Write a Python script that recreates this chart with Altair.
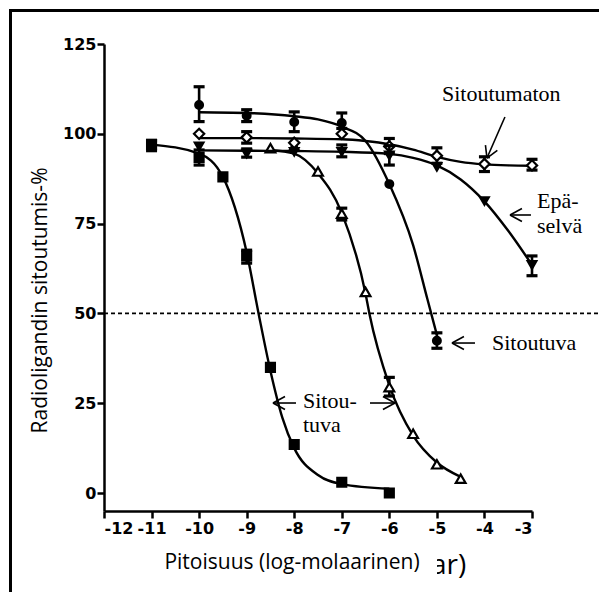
import altair as alt
import pandas as pd

# ---------------- data ----------------
# filled squares (Sitoutuva, left)
sq_x = [-11, -10, -9.5, -9, -8.5, -8, -7, -6]
sq_y = [97, 93.4, 88, 66, 35, 13.5, 3, 0]
sq_lo = [95.3, 91.3, None, 64, None, None, None, None]
sq_hi = [98.2, 95.5, None, 67.6, None, None, None, None]
sq_cx = [-11, -10, -9.5, -9, -8.75, -8.5, -8.25, -8, -7.5, -7, -6]
sq_cy = [97, 94.5, 88, 67, 50, 34, 21, 12.5, 5, 2.5, 1.2]

# open triangles (Sitoutuva, middle)
tr_x = [-8.5, -8, -7.5, -7, -6.5, -6, -5.5, -5, -4.5]
tr_y = [96, 96.5, 89.5, 77.8, 56, 29.5, 16.5, 8, 4]
tr_lo = [None, None, None, 76, None, 27, None, None, None]
tr_hi = [None, None, None, 79.3, None, 32.2, None, None, None]
tr_cx = [-8.5, -8, -7.5, -7, -6.5, -6.42, -6, -5.5, -5, -4.5]
tr_cy = [95.5, 94.5, 89, 78, 55.5, 50, 30, 16, 8.5, 4.5]

# filled circles (Sitoutuva, right)
ci_x = [-10, -9, -8, -7, -6, -5]
ci_y = [108, 105, 103.3, 103, 86, 42.4]
ci_lo = [103.4, 103.4, 100.6, 101.5, None, 40.3]
ci_hi = [113.1, 106.7, 106.1, 105.8, None, 44.6]
ci_cx = [-10, -9, -8, -7.5, -7, -6.5, -6, -5.5, -5.2, -5]
ci_cy = [106, 105.8, 104.9, 104, 102, 98, 86, 69, 54, 44]

# open diamonds (Sitoutumaton)
di_x = [-10, -9, -8, -7, -6, -5, -4, -3]
di_y = [100, 99, 97.5, 100, 96.5, 93.9, 91.6, 91.2]
di_lo = [None, 97.4, None, None, 94.5, 91.8, 89.5, 89.9]
di_hi = [None, 100.6, None, None, 98.7, 96.1, 93.6, 92.9]
di_cx = [-10, -9, -8, -7, -6.5, -6, -5.5, -5, -4.5, -4, -3.5, -3]
di_cy = [98.8, 98.8, 98.7, 98.5, 98.0, 97.1, 95.6, 93.6, 92.2, 91.5, 91.2, 91.1]

# filled down-triangles (Epäselvä)
dt_x = [-10, -9, -8, -7, -6, -5, -4, -3]
dt_y = [96.5, 94.5, 95, 95, 94, 90.8, 81.3, 63.5]
dt_lo = [None, 93.5, None, 93.6, 91.3, None, None, 60.5]
dt_hi = [None, 95.8, None, 96.9, 96.7, None, None, 66]
dt_cx = [-10, -9, -8, -7, -6, -5.5, -5, -4.5, -4, -3.5, -3]
dt_cy = [95.4, 95.3, 95.2, 95.0, 94.4, 93.3, 91.2, 87.3, 81.2, 73, 63.5]

x_ticks = [-12, -11, -10, -9, -8, -7, -6, -5, -4, -3]
y_ticks = [0, 25, 50, 75, 100, 125]

# annotation texts (data coordinates)
ann_text = ["Sitoutumaton", "Epä-", "selvä", "Sitoutuva", "Sitou-", "tuva"]
ann_x = [-4.893, -2.896, -2.896, -3.842, -7.816, -7.816]
ann_y = [109.1, 79.3, 72.4, 39.8, 23.66, 16.98]

# arrow segments (data coordinates): tip, tail and two head arms
arrows = [
    (-8.447, 25.06, -7.963, 25.06, -8.194, 26.87, -8.194, 23.25),
    (-5.881, 25.06, -6.407, 25.06, -6.134, 26.87, -6.134, 23.25),
    (-3.463, 77.4, -3.022, 77.4, -3.211, 79.2, -3.211, 75.6),
    (-4.683, 41.76, -4.199, 41.76, -4.431, 43.57, -4.431, 39.95),
    (-3.947, 93.26, -3.569, 104.68, -3.729, 95.41, -3.979, 96.85),
]

# ---------------- chart ----------------
XS = alt.Scale(domain=[-12, -3], nice=False, zero=False)
YS = alt.Scale(domain=[-5, 125], nice=False, zero=False)
LBL = "datum.value < 0 ? '-' + (-datum.value) : '' + datum.value"
XA = alt.Axis(values=x_ticks, labelExpr=LBL, labelOverlap=False,
              title="Pitoisuus (log-molaarinen)")
YA = alt.Axis(values=y_ticks, labelExpr=LBL, labelOverlap=False,
              title="Radioligandin sitoutumis-%")


def X(f):
    return alt.X(f, type="quantitative", scale=XS, axis=XA)


def Y(f):
    return alt.Y(f, type="quantitative", scale=YS, axis=YA)


def series(xs, ys, lo, hi, cx, cy, shape, filled, size):
    pts = pd.DataFrame({"x": xs, "y": ys, "lo": lo, "hi": hi})
    err = pts.dropna(subset=["lo"])
    cur = pd.DataFrame({"x": cx, "y": cy})
    line = alt.Chart(cur).mark_line(
        interpolate="monotone", color="black", strokeWidth=2.4, opacity=1
    ).encode(x=X("x"), y=Y("y"))
    rule = alt.Chart(err).mark_rule(
        color="black", strokeWidth=2.6, opacity=1
    ).encode(x=X("x"), y=Y("lo"), y2="hi")
    cap_lo = alt.Chart(err).mark_tick(
        orient="horizontal", color="black", size=11, thickness=3.2, opacity=1
    ).encode(x=X("x"), y=Y("lo"))
    cap_hi = alt.Chart(err).mark_tick(
        orient="horizontal", color="black", size=11, thickness=3.2, opacity=1
    ).encode(x=X("x"), y=Y("hi"))
    pt = alt.Chart(pts).mark_point(
        shape=shape,
        filled=True,
        fill="black" if filled else "white",
        stroke="black",
        strokeWidth=2.2,
        size=size,
        opacity=1,
    ).encode(x=X("x"), y=Y("y"))
    return [line, rule, cap_lo, cap_hi, pt]


layers = []

# frame lines (decoration)
frame = pd.DataFrame({"k": [0]})
layers.append(
    alt.Chart(frame).mark_rule(color="black", strokeWidth=3).encode(
        x=alt.value(-93.5), y=alt.value(-34), y2=alt.value(560)
    )
)
layers.append(
    alt.Chart(frame).mark_rule(color="black", strokeWidth=3).encode(
        x=alt.value(-95), x2=alt.value(500), y=alt.value(-33.5)
    )
)

# dashed 50 % line
half = pd.DataFrame({"x": [-12], "x2": [-1.4], "y": [50]})
layers.append(
    alt.Chart(half).mark_rule(
        color="black", strokeWidth=1.6, strokeDash=[4, 3], clip=False
    ).encode(x=X("x"), x2="x2", y=Y("y"))
)

layers += series(sq_x, sq_y, sq_lo, sq_hi, sq_cx, sq_cy, "square", True, 80)
layers += series(tr_x, tr_y, tr_lo, tr_hi, tr_cx, tr_cy, "triangle-up", False, 95)
layers += series(ci_x, ci_y, ci_lo, ci_hi, ci_cx, ci_cy, "circle", True, 60)
layers += series(di_x, di_y, di_lo, di_hi, di_cx, di_cy, "diamond", False, 105)
layers += series(dt_x, dt_y, dt_lo, dt_hi, dt_cx, dt_cy, "triangle-down", True, 75)

# arrows
segs = []
for tx, ty, sx, sy, a1x, a1y, a2x, a2y in arrows:
    segs.append({"x": sx, "y": sy, "x2": tx, "y2": ty})
    segs.append({"x": a1x, "y": a1y, "x2": tx, "y2": ty})
    segs.append({"x": a2x, "y": a2y, "x2": tx, "y2": ty})
layers.append(
    alt.Chart(pd.DataFrame(segs)).mark_rule(
        color="black", strokeWidth=1.6, clip=False, opacity=1
    ).encode(x=X("x"), x2="x2", y=Y("y"), y2="y2")
)

# annotation texts
ann = pd.DataFrame({"x": ann_x, "y": ann_y, "t": ann_text})
layers.append(
    alt.Chart(ann).mark_text(
        align="left",
        baseline="alphabetic",
        font="Liberation Serif",
        fontSize=22,
        color="black",
    ).encode(x=X("x"), y=Y("y"), text="t:N")
)

# stray fragment of the original axis label
frag = pd.DataFrame({"t": ["ar)"]})
layers.append(
    alt.Chart(frag).mark_text(
        align="left",
        baseline="alphabetic",
        font="Open Sans",
        fontSize=28,
        color="black",
    ).encode(x=alt.value(327), y=alt.value(530), text="t:N")
)
layers.append(
    alt.Chart(frag).mark_rect(color="white").encode(
        x=alt.value(320), x2=alt.value(333), y=alt.value(500), y2=alt.value(540)
    )
)

chart = (
    alt.layer(*layers)
    .properties(
        width=428,
        height=467,
        padding={"left": 104, "top": 44, "right": 67, "bottom": 81},
        autosize=alt.AutoSizeParams(type="none"),
        background="white",
    )
    .configure_view(stroke=None)
    .configure_axis(
        domainColor="black",
        domainWidth=2.5,
        tickColor="black",
        tickWidth=2.5,
        tickSize=7,
        grid=False,
        labelFont="DejaVu Sans",
        labelFontWeight="bold",
        labelFontSize=16,
        labelColor="black",
        titleFont="Open Sans",
        titleFontSize=21,
        titleFontWeight="normal",
        titleColor="black",
    )
    .configure_axisX(
        labelPadding=2,
        titleX=187.5,
        titleY=57,
        titleAlign="center",
        titleBaseline="alphabetic",
    )
    .configure_axisY(
        labelPadding=1,
        titleAngle=270,
        titleX=-58,
        titleY=256,
        titleAlign="center",
        titleBaseline="alphabetic",
    )
)

chart.save("out.html", embed_options={"renderer": "svg", "actions": False})
